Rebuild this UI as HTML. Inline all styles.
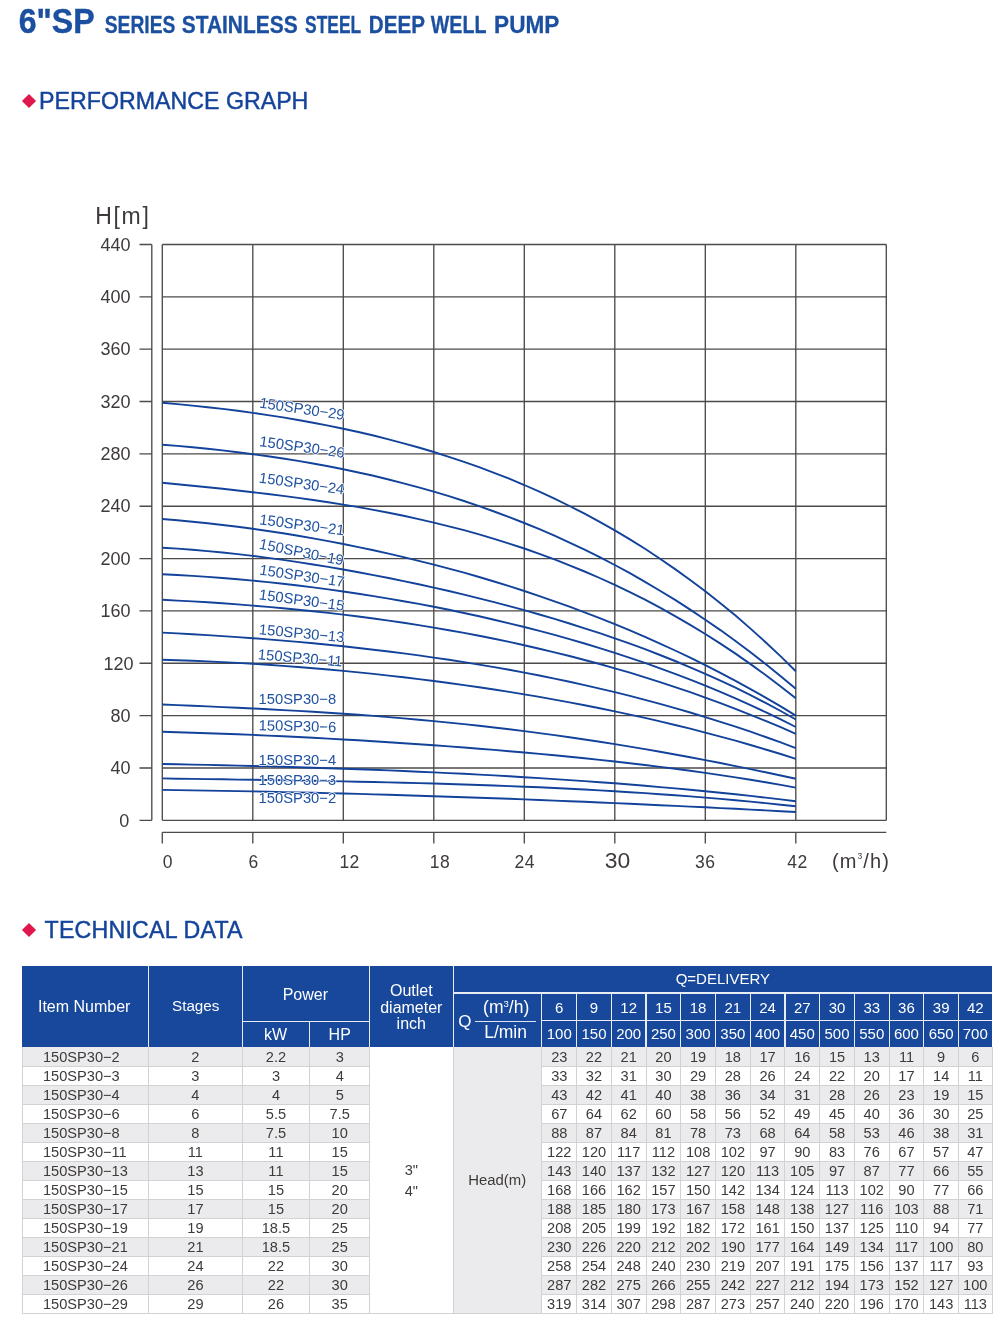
<!DOCTYPE html>
<html lang="en"><head><meta charset="utf-8"><title>6"SP Series Stainless Steel Deep Well Pump</title>
<style>
html,body{margin:0;padding:0;background:#fff}
body{width:1006px;height:1320px;position:relative;overflow:hidden;font-family:"Liberation Sans",sans-serif;color:#3e3a39}
.abs{position:absolute;white-space:nowrap}
.c{transform:translate(-50%,-50%);text-align:center}
.h{color:#fff;font-size:16px;line-height:1}
.d{color:#3e3a39;font-size:14.6px;line-height:1}
svg text{font-family:"Liberation Sans",sans-serif}
.t1{left:17.8px;top:1.1px;font-weight:bold;font-size:34.2px;line-height:38px;color:#1b4fa0;transform-origin:0 0;transform:scaleX(0.935);-webkit-text-stroke:0.4px #1b4fa0}
.t2{left:104.2px;top:9.2px;font-weight:bold;font-size:23.7px;line-height:28px;color:#1b4fa0;transform-origin:0 0;transform:scaleX(0.871);-webkit-text-stroke:0.3px #1b4fa0}
.sec{font-size:23.2px;line-height:26px;color:#14439b;-webkit-text-stroke:0.45px #14439b}
.dia{width:10px;height:10px;background:#e0174d;transform:rotate(45deg)}
</style></head><body>
<svg class="abs" style="left:0;top:0" width="1006" height="50" viewBox="0 0 1006 50" font-weight="bold" fill="#1b4fa0" stroke="#1b4fa0">
<text x="18.7" y="32.9" font-size="34.2" stroke-width="0.4" textLength="76" lengthAdjust="spacingAndGlyphs">6"SP</text>
<text x="104.7" y="32.9" font-size="23.7" stroke-width="0.3" textLength="70.7" lengthAdjust="spacingAndGlyphs">SERIES</text>
<text x="181.7" y="32.9" font-size="23.7" stroke-width="0.3" textLength="115.9" lengthAdjust="spacingAndGlyphs">STAINLESS</text>
<text x="305.1" y="32.9" font-size="23.7" stroke-width="0.3" textLength="56.1" lengthAdjust="spacingAndGlyphs">STEEL</text>
<text x="368.8" y="32.9" font-size="23.7" stroke-width="0.3" textLength="56.2" lengthAdjust="spacingAndGlyphs">DEEP</text>
<text x="430.8" y="32.9" font-size="23.7" stroke-width="0.3" textLength="55.7" lengthAdjust="spacingAndGlyphs">WELL</text>
<text x="494.1" y="32.9" font-size="23.7" stroke-width="0.3" textLength="65.2" lengthAdjust="spacingAndGlyphs">PUMP</text>
</svg>
<div class="abs dia" style="left:24.4px;top:95.5px"></div>
<div class="abs sec" style="left:39.1px;top:88px">PERFORMANCE GRAPH</div>
<div class="abs dia" style="left:24.4px;top:924.5px"></div>
<div class="abs sec" style="left:44.6px;top:917.2px;letter-spacing:0.2px">TECHNICAL DATA</div>
<svg class="abs" style="left:0;top:0" width="1006" height="900" viewBox="0 0 1006 900">
<path d="M162.30 244.45V820.30M252.80 244.45V820.30M343.30 244.45V820.30M433.80 244.45V820.30M524.30 244.45V820.30M614.80 244.45V820.30M705.30 244.45V820.30M795.80 244.45V820.30M886.30 244.45V820.30M162.30 820.30H886.30M162.30 767.95H886.30M162.30 715.60H886.30M162.30 663.25H886.30M162.30 610.90H886.30M162.30 558.55H886.30M162.30 506.20H886.30M162.30 453.85H886.30M162.30 401.50H886.30M162.30 349.15H886.30M162.30 296.80H886.30M162.30 244.45H886.30" fill="none" stroke="#4e4a49" stroke-width="1.35"/>
<path d="M151.8 244.45V820.30M139.5 820.30H151.8M139.5 767.95H151.8M139.5 715.60H151.8M139.5 663.25H151.8M139.5 610.90H151.8M139.5 558.55H151.8M139.5 506.20H151.8M139.5 453.85H151.8M139.5 401.50H151.8M139.5 349.15H151.8M139.5 296.80H151.8M139.5 244.45H151.8M162.30 832.3H886.30M162.30 832.3V843.4M252.80 832.3V843.4M343.30 832.3V843.4M433.80 832.3V843.4M524.30 832.3V843.4M614.80 832.3V843.4M705.30 832.3V843.4M795.80 832.3V843.4" fill="none" stroke="#4e4a49" stroke-width="1.35"/>
<path d="M162.3 789.9L177.4 790.1L192.5 790.4L207.6 790.6L222.6 790.9L237.7 791.1L252.8 791.4L267.9 791.7L283.0 792.1L298.1 792.4L313.1 792.8L328.2 793.1L343.3 793.5L358.4 793.9L373.5 794.4L388.6 794.8L403.6 795.3L418.7 795.7L433.8 796.2L448.9 796.7L464.0 797.2L479.1 797.7L494.1 798.3L509.2 798.8L524.3 799.4L539.4 800.0L554.5 800.6L569.5 801.2L584.6 801.8L599.7 802.5L614.8 803.1L629.9 803.8L645.0 804.5L660.0 805.2L675.1 805.9L690.2 806.6L705.3 807.3L720.4 808.1L735.5 808.8L750.5 809.6L765.6 810.4L780.7 811.2L795.8 812.0" fill="none" stroke="#12429a" stroke-width="1.9"/>
<path d="M162.3 778.4L177.4 778.7L192.5 778.9L207.6 779.1L222.6 779.3L237.7 779.6L252.8 779.8L267.9 780.0L283.0 780.3L298.1 780.6L313.1 780.8L328.2 781.1L343.3 781.4L358.4 781.7L373.5 782.0L388.6 782.4L403.6 782.7L418.7 783.1L433.8 783.5L448.9 784.0L464.0 784.5L479.1 785.0L494.1 785.5L509.2 786.1L524.3 786.7L539.4 787.3L554.5 788.0L569.5 788.8L584.6 789.5L599.7 790.4L614.8 791.2L629.9 792.2L645.0 793.1L660.0 794.2L675.1 795.3L690.2 796.4L705.3 797.6L720.4 798.9L735.5 800.2L750.5 801.6L765.6 803.1L780.7 804.7L795.8 806.3" fill="none" stroke="#12429a" stroke-width="1.9"/>
<path d="M162.3 764.0L177.4 764.3L192.5 764.6L207.6 764.9L222.6 765.3L237.7 765.6L252.8 766.0L267.9 766.4L283.0 766.8L298.1 767.3L313.1 767.7L328.2 768.2L343.3 768.7L358.4 769.3L373.5 769.8L388.6 770.4L403.6 771.0L418.7 771.7L433.8 772.4L448.9 773.1L464.0 773.8L479.1 774.6L494.1 775.4L509.2 776.3L524.3 777.2L539.4 778.1L554.5 779.1L569.5 780.1L584.6 781.1L599.7 782.2L614.8 783.3L629.9 784.5L645.0 785.8L660.0 787.1L675.1 788.4L690.2 789.8L705.3 791.2L720.4 792.7L735.5 794.3L750.5 795.9L765.6 797.6L780.7 799.4L795.8 801.2" fill="none" stroke="#12429a" stroke-width="1.9"/>
<path d="M162.3 731.8L177.4 732.2L192.5 732.7L207.6 733.2L222.6 733.7L237.7 734.3L252.8 734.9L267.9 735.6L283.0 736.3L298.1 737.0L313.1 737.8L328.2 738.6L343.3 739.5L358.4 740.3L373.5 741.3L388.6 742.2L403.6 743.2L418.7 744.2L433.8 745.3L448.9 746.4L464.0 747.5L479.1 748.7L494.1 749.9L509.2 751.2L524.3 752.5L539.4 753.9L554.5 755.3L569.5 756.8L584.6 758.3L599.7 759.9L614.8 761.5L629.9 763.3L645.0 765.0L660.0 766.9L675.1 768.8L690.2 770.8L705.3 772.9L720.4 775.1L735.5 777.4L750.5 779.8L765.6 782.3L780.7 784.9L795.8 787.6" fill="none" stroke="#12429a" stroke-width="1.9"/>
<path d="M162.3 704.5L177.4 705.1L192.5 705.7L207.6 706.4L222.6 707.1L237.7 707.8L252.8 708.5L267.9 709.2L283.0 710.1L298.1 710.9L313.1 711.8L328.2 712.7L343.3 713.7L358.4 714.8L373.5 715.9L388.6 717.1L403.6 718.4L418.7 719.7L433.8 721.1L448.9 722.6L464.0 724.1L479.1 725.8L494.1 727.5L509.2 729.3L524.3 731.1L539.4 733.1L554.5 735.1L569.5 737.2L584.6 739.5L599.7 741.7L614.8 744.1L629.9 746.6L645.0 749.1L660.0 751.8L675.1 754.5L690.2 757.2L705.3 760.1L720.4 763.0L735.5 766.1L750.5 769.1L765.6 772.3L780.7 775.5L795.8 778.8" fill="none" stroke="#12429a" stroke-width="1.9"/>
<path d="M162.3 659.7L177.4 660.2L192.5 660.8L207.6 661.4L222.6 662.1L237.7 662.9L252.8 663.8L267.9 664.8L283.0 665.9L298.1 667.0L313.1 668.2L328.2 669.5L343.3 670.9L358.4 672.4L373.5 673.9L388.6 675.6L403.6 677.3L418.7 679.1L433.8 681.0L448.9 683.0L464.0 685.1L479.1 687.3L494.1 689.5L509.2 691.9L524.3 694.4L539.4 696.9L554.5 699.6L569.5 702.4L584.6 705.3L599.7 708.3L614.8 711.4L629.9 714.6L645.0 717.9L660.0 721.4L675.1 725.0L690.2 728.7L705.3 732.6L720.4 736.6L735.5 740.7L750.5 745.0L765.6 749.5L780.7 754.0L795.8 758.8" fill="none" stroke="#12429a" stroke-width="1.9"/>
<path d="M162.3 632.6L177.4 633.4L192.5 634.2L207.6 635.1L222.6 636.1L237.7 637.1L252.8 638.2L267.9 639.4L283.0 640.6L298.1 641.9L313.1 643.3L328.2 644.8L343.3 646.3L358.4 648.0L373.5 649.7L388.6 651.5L403.6 653.4L418.7 655.4L433.8 657.6L448.9 659.8L464.0 662.1L479.1 664.6L494.1 667.1L509.2 669.8L524.3 672.6L539.4 675.5L554.5 678.6L569.5 681.8L584.6 685.1L599.7 688.6L614.8 692.2L629.9 695.9L645.0 699.8L660.0 703.9L675.1 708.1L690.2 712.5L705.3 717.1L720.4 721.8L735.5 726.7L750.5 731.7L765.6 737.0L780.7 742.4L795.8 748.1" fill="none" stroke="#12429a" stroke-width="1.9"/>
<path d="M162.3 599.8L177.4 600.6L192.5 601.4L207.6 602.3L222.6 603.3L237.7 604.4L252.8 605.6L267.9 606.9L283.0 608.2L298.1 609.7L313.1 611.2L328.2 612.9L343.3 614.6L358.4 616.5L373.5 618.5L388.6 620.6L403.6 622.8L418.7 625.1L433.8 627.6L448.9 630.2L464.0 632.9L479.1 635.8L494.1 638.8L509.2 641.9L524.3 645.2L539.4 648.7L554.5 652.3L569.5 656.0L584.6 660.0L599.7 664.0L614.8 668.3L629.9 672.7L645.0 677.3L660.0 682.1L675.1 687.1L690.2 692.2L705.3 697.6L720.4 703.1L735.5 708.8L750.5 714.8L765.6 720.9L780.7 727.2L795.8 733.8" fill="none" stroke="#12429a" stroke-width="1.9"/>
<path d="M162.3 574.3L177.4 575.0L192.5 575.9L207.6 576.9L222.6 578.0L237.7 579.2L252.8 580.6L267.9 582.1L283.0 583.7L298.1 585.5L313.1 587.4L328.2 589.4L343.3 591.5L358.4 593.7L373.5 596.1L388.6 598.6L403.6 601.2L418.7 603.9L433.8 606.8L448.9 609.8L464.0 613.0L479.1 616.2L494.1 619.7L509.2 623.3L524.3 627.0L539.4 630.9L554.5 634.9L569.5 639.1L584.6 643.5L599.7 648.1L614.8 652.9L629.9 657.8L645.0 662.9L660.0 668.3L675.1 673.8L690.2 679.6L705.3 685.6L720.4 691.9L735.5 698.4L750.5 705.1L765.6 712.1L780.7 719.4L795.8 727.0" fill="none" stroke="#12429a" stroke-width="1.9"/>
<path d="M162.3 547.7L177.4 548.6L192.5 549.8L207.6 551.1L222.6 552.5L237.7 554.1L252.8 555.9L267.9 557.9L283.0 559.9L298.1 562.1L313.1 564.5L328.2 566.9L343.3 569.5L358.4 572.2L373.5 575.1L388.6 578.0L403.6 581.1L418.7 584.3L433.8 587.6L448.9 591.0L464.0 594.6L479.1 598.3L494.1 602.1L509.2 606.1L524.3 610.2L539.4 614.5L554.5 618.9L569.5 623.5L584.6 628.3L599.7 633.2L614.8 638.3L629.9 643.7L645.0 649.2L660.0 655.0L675.1 661.0L690.2 667.3L705.3 673.8L720.4 680.6L735.5 687.7L750.5 695.2L765.6 702.9L780.7 711.0L795.8 719.5" fill="none" stroke="#12429a" stroke-width="1.9"/>
<path d="M162.3 519.0L177.4 520.3L192.5 521.7L207.6 523.3L222.6 525.0L237.7 526.8L252.8 528.8L267.9 531.0L283.0 533.3L298.1 535.8L313.1 538.4L328.2 541.1L343.3 544.0L358.4 547.1L373.5 550.3L388.6 553.6L403.6 557.1L418.7 560.8L433.8 564.6L448.9 568.6L464.0 572.7L479.1 577.0L494.1 581.5L509.2 586.2L524.3 591.0L539.4 596.1L554.5 601.3L569.5 606.7L584.6 612.3L599.7 618.1L614.8 624.1L629.9 630.4L645.0 636.9L660.0 643.6L675.1 650.5L690.2 657.7L705.3 665.1L720.4 672.8L735.5 680.8L750.5 689.1L765.6 697.6L780.7 706.4L795.8 715.6" fill="none" stroke="#12429a" stroke-width="1.9"/>
<path d="M162.3 482.8L177.4 484.2L192.5 485.7L207.6 487.3L222.6 488.8L237.7 490.5L252.8 492.2L267.9 494.0L283.0 495.9L298.1 497.9L313.1 500.0L328.2 502.2L343.3 504.6L358.4 507.1L373.5 509.9L388.6 512.7L403.6 515.8L418.7 519.1L433.8 522.6L448.9 526.3L464.0 530.2L479.1 534.4L494.1 538.8L509.2 543.6L524.3 548.5L539.4 553.8L554.5 559.4L569.5 565.3L584.6 571.5L599.7 578.0L614.8 584.9L629.9 592.1L645.0 599.7L660.0 607.7L675.1 616.1L690.2 624.9L705.3 634.0L720.4 643.6L735.5 653.6L750.5 664.1L765.6 675.0L780.7 686.4L795.8 698.2" fill="none" stroke="#12429a" stroke-width="1.9"/>
<path d="M162.3 444.7L177.4 445.9L192.5 447.3L207.6 448.8L222.6 450.4L237.7 452.2L252.8 454.2L267.9 456.2L283.0 458.5L298.1 460.9L313.1 463.5L328.2 466.3L343.3 469.3L358.4 472.5L373.5 475.8L388.6 479.5L403.6 483.3L418.7 487.4L433.8 491.7L448.9 496.2L464.0 501.0L479.1 506.1L494.1 511.5L509.2 517.1L524.3 523.0L539.4 529.2L554.5 535.7L569.5 542.6L584.6 549.7L599.7 557.2L614.8 565.0L629.9 573.2L645.0 581.8L660.0 590.7L675.1 599.9L690.2 609.6L705.3 619.7L720.4 630.1L735.5 641.0L750.5 652.3L765.6 664.0L780.7 676.2L795.8 688.8" fill="none" stroke="#12429a" stroke-width="1.9"/>
<path d="M162.3 402.8L177.4 404.1L192.5 405.6L207.6 407.2L222.6 408.9L237.7 410.8L252.8 412.9L267.9 415.1L283.0 417.4L298.1 420.0L313.1 422.7L328.2 425.6L343.3 428.7L358.4 432.0L373.5 435.5L388.6 439.3L403.6 443.3L418.7 447.5L433.8 452.0L448.9 456.8L464.0 461.8L479.1 467.2L494.1 472.8L509.2 478.7L524.3 485.0L539.4 491.7L554.5 498.6L569.5 506.0L584.6 513.7L599.7 521.9L614.8 530.4L629.9 539.4L645.0 548.8L660.0 558.7L675.1 569.1L690.2 579.9L705.3 591.3L720.4 603.2L735.5 615.6L750.5 628.6L765.6 642.2L780.7 656.4L795.8 671.2" fill="none" stroke="#12429a" stroke-width="1.9"/>
<text x="258.90000000000003" y="407.5" transform="rotate(8.4 258.90000000000003 407.5)" fill="#2052a2" font-size="14.75" stroke="#fff" stroke-width="1.5" stroke-linejoin="round" paint-order="stroke">150SP30−29</text>
<text x="258.90000000000003" y="446.0" transform="rotate(7.9 258.90000000000003 446.0)" fill="#2052a2" font-size="14.75" stroke="#fff" stroke-width="1.5" stroke-linejoin="round" paint-order="stroke">150SP30−26</text>
<text x="258.6" y="482.4" transform="rotate(8.1 258.6 482.4)" fill="#2052a2" font-size="14.75" stroke="#fff" stroke-width="1.5" stroke-linejoin="round" paint-order="stroke">150SP30−24</text>
<text x="258.90000000000003" y="524.2" transform="rotate(7.5 258.90000000000003 524.2)" fill="#2052a2" font-size="14.75" stroke="#fff" stroke-width="1.5" stroke-linejoin="round" paint-order="stroke">150SP30−21</text>
<text x="258.6" y="548.6" transform="rotate(11.3 258.6 548.6)" fill="#2052a2" font-size="14.75" stroke="#fff" stroke-width="1.5" stroke-linejoin="round" paint-order="stroke">150SP30−19</text>
<text x="258.90000000000003" y="574.5" transform="rotate(8.4 258.90000000000003 574.5)" fill="#2052a2" font-size="14.75" stroke="#fff" stroke-width="1.5" stroke-linejoin="round" paint-order="stroke">150SP30−17</text>
<text x="258.6" y="599.3" transform="rotate(7.7 258.6 599.3)" fill="#2052a2" font-size="14.75" stroke="#fff" stroke-width="1.5" stroke-linejoin="round" paint-order="stroke">150SP30−15</text>
<text x="258.6" y="634.2" transform="rotate(5.4 258.6 634.2)" fill="#2052a2" font-size="14.75" stroke="#fff" stroke-width="1.5" stroke-linejoin="round" paint-order="stroke">150SP30−13</text>
<text x="257.6" y="659.2" transform="rotate(5.0 257.6 659.2)" fill="#2052a2" font-size="14.75" stroke="#fff" stroke-width="1.5" stroke-linejoin="round" paint-order="stroke">150SP30−11</text>
<text x="258.6" y="704.4" transform="rotate(0 258.6 704.4)" fill="#2052a2" font-size="14.75" stroke="#fff" stroke-width="1.5" stroke-linejoin="round" paint-order="stroke">150SP30−8</text>
<text x="258.6" y="730.2" transform="rotate(1.4 258.6 730.2)" fill="#2052a2" font-size="14.75" stroke="#fff" stroke-width="1.5" stroke-linejoin="round" paint-order="stroke">150SP30−6</text>
<text x="258.6" y="765.0" transform="rotate(0 258.6 765.0)" fill="#2052a2" font-size="14.75" stroke="#fff" stroke-width="1.5" stroke-linejoin="round" paint-order="stroke">150SP30−4</text>
<text x="258.6" y="784.9" transform="rotate(0 258.6 784.9)" fill="#2052a2" font-size="14.75" stroke="#fff" stroke-width="1.5" stroke-linejoin="round" paint-order="stroke">150SP30−3</text>
<text x="258.6" y="803.2" transform="rotate(0 258.6 803.2)" fill="#2052a2" font-size="14.75" stroke="#fff" stroke-width="1.5" stroke-linejoin="round" paint-order="stroke">150SP30−2</text>
<text x="129.2" y="826.5" text-anchor="end" fill="#3e3a39" font-size="18">0</text>
<text x="130.6" y="774.1" text-anchor="end" fill="#3e3a39" font-size="18">40</text>
<text x="130.6" y="721.8" text-anchor="end" fill="#3e3a39" font-size="18">80</text>
<text x="133.6" y="669.5" text-anchor="end" fill="#3e3a39" font-size="18">120</text>
<text x="130.6" y="617.1" text-anchor="end" fill="#3e3a39" font-size="18">160</text>
<text x="130.6" y="564.8" text-anchor="end" fill="#3e3a39" font-size="18">200</text>
<text x="130.6" y="512.4" text-anchor="end" fill="#3e3a39" font-size="18">240</text>
<text x="130.6" y="460.0" text-anchor="end" fill="#3e3a39" font-size="18">280</text>
<text x="130.6" y="407.7" text-anchor="end" fill="#3e3a39" font-size="18">320</text>
<text x="130.6" y="355.3" text-anchor="end" fill="#3e3a39" font-size="18">360</text>
<text x="130.6" y="303.0" text-anchor="end" fill="#3e3a39" font-size="18">400</text>
<text x="130.6" y="250.6" text-anchor="end" fill="#3e3a39" font-size="18">440</text>
<text x="167.7" y="867.7" text-anchor="middle" fill="#3e3a39" font-size="17.5" letter-spacing="0.4">0</text>
<text x="253.6" y="867.7" text-anchor="middle" fill="#3e3a39" font-size="17.5" letter-spacing="0.4">6</text>
<text x="349.59999999999997" y="867.7" text-anchor="middle" fill="#3e3a39" font-size="17.5" letter-spacing="0.4">12</text>
<text x="440.0" y="867.7" text-anchor="middle" fill="#3e3a39" font-size="17.5" letter-spacing="0.4">18</text>
<text x="524.7" y="867.7" text-anchor="middle" fill="#3e3a39" font-size="17.5" letter-spacing="0.4">24</text>
<text x="617.6" y="868.3" text-anchor="middle" fill="#3e3a39" font-size="22.9">30</text>
<text x="705.2" y="867.7" text-anchor="middle" fill="#3e3a39" font-size="17.5" letter-spacing="0.4">36</text>
<text x="797.5" y="867.7" text-anchor="middle" fill="#3e3a39" font-size="17.5" letter-spacing="0.4">42</text>
<text x="832" y="867.7" fill="#3e3a39" font-size="20" letter-spacing="1.1">(m<tspan dy="-9" font-size="8.5">3</tspan><tspan dy="9">/h)</tspan></text>
<text x="95.2" y="223.9" fill="#3e3a39" font-size="23" letter-spacing="1.7">H[m]</text>
</svg>
<div class="abs" style="left:22.00px;top:966.20px;width:970.00px;height:81.00px;background:#17489b;"></div>
<div class="abs" style="left:22.00px;top:1047.20px;width:347.90px;height:19.03px;background:#ebebed;"></div>
<div class="abs" style="left:541.90px;top:1047.20px;width:450.10px;height:19.03px;background:#ebebed;"></div>
<div class="abs" style="left:22.00px;top:1066.23px;width:347.90px;height:19.03px;background:#fff;"></div>
<div class="abs" style="left:541.90px;top:1066.23px;width:450.10px;height:19.03px;background:#fff;"></div>
<div class="abs" style="left:22.00px;top:1085.26px;width:347.90px;height:19.03px;background:#ebebed;"></div>
<div class="abs" style="left:541.90px;top:1085.26px;width:450.10px;height:19.03px;background:#ebebed;"></div>
<div class="abs" style="left:22.00px;top:1104.29px;width:347.90px;height:19.03px;background:#fff;"></div>
<div class="abs" style="left:541.90px;top:1104.29px;width:450.10px;height:19.03px;background:#fff;"></div>
<div class="abs" style="left:22.00px;top:1123.31px;width:347.90px;height:19.03px;background:#ebebed;"></div>
<div class="abs" style="left:541.90px;top:1123.31px;width:450.10px;height:19.03px;background:#ebebed;"></div>
<div class="abs" style="left:22.00px;top:1142.34px;width:347.90px;height:19.03px;background:#fff;"></div>
<div class="abs" style="left:541.90px;top:1142.34px;width:450.10px;height:19.03px;background:#fff;"></div>
<div class="abs" style="left:22.00px;top:1161.37px;width:347.90px;height:19.03px;background:#ebebed;"></div>
<div class="abs" style="left:541.90px;top:1161.37px;width:450.10px;height:19.03px;background:#ebebed;"></div>
<div class="abs" style="left:22.00px;top:1180.40px;width:347.90px;height:19.03px;background:#fff;"></div>
<div class="abs" style="left:541.90px;top:1180.40px;width:450.10px;height:19.03px;background:#fff;"></div>
<div class="abs" style="left:22.00px;top:1199.43px;width:347.90px;height:19.03px;background:#ebebed;"></div>
<div class="abs" style="left:541.90px;top:1199.43px;width:450.10px;height:19.03px;background:#ebebed;"></div>
<div class="abs" style="left:22.00px;top:1218.46px;width:347.90px;height:19.03px;background:#fff;"></div>
<div class="abs" style="left:541.90px;top:1218.46px;width:450.10px;height:19.03px;background:#fff;"></div>
<div class="abs" style="left:22.00px;top:1237.49px;width:347.90px;height:19.03px;background:#ebebed;"></div>
<div class="abs" style="left:541.90px;top:1237.49px;width:450.10px;height:19.03px;background:#ebebed;"></div>
<div class="abs" style="left:22.00px;top:1256.51px;width:347.90px;height:19.03px;background:#fff;"></div>
<div class="abs" style="left:541.90px;top:1256.51px;width:450.10px;height:19.03px;background:#fff;"></div>
<div class="abs" style="left:22.00px;top:1275.54px;width:347.90px;height:19.03px;background:#ebebed;"></div>
<div class="abs" style="left:541.90px;top:1275.54px;width:450.10px;height:19.03px;background:#ebebed;"></div>
<div class="abs" style="left:22.00px;top:1294.57px;width:347.90px;height:19.03px;background:#fff;"></div>
<div class="abs" style="left:541.90px;top:1294.57px;width:450.10px;height:19.03px;background:#fff;"></div>
<div class="abs" style="left:453.70px;top:1047.20px;width:88.20px;height:266.40px;background:#ebebed;"></div>
<div class="abs" style="left:22.00px;top:1065.73px;width:347.90px;height:1.00px;background:#d2d2d4;"></div>
<div class="abs" style="left:541.90px;top:1065.73px;width:450.10px;height:1.00px;background:#d2d2d4;"></div>
<div class="abs" style="left:22.00px;top:1084.76px;width:347.90px;height:1.00px;background:#d2d2d4;"></div>
<div class="abs" style="left:541.90px;top:1084.76px;width:450.10px;height:1.00px;background:#d2d2d4;"></div>
<div class="abs" style="left:22.00px;top:1103.79px;width:347.90px;height:1.00px;background:#d2d2d4;"></div>
<div class="abs" style="left:541.90px;top:1103.79px;width:450.10px;height:1.00px;background:#d2d2d4;"></div>
<div class="abs" style="left:22.00px;top:1122.81px;width:347.90px;height:1.00px;background:#d2d2d4;"></div>
<div class="abs" style="left:541.90px;top:1122.81px;width:450.10px;height:1.00px;background:#d2d2d4;"></div>
<div class="abs" style="left:22.00px;top:1141.84px;width:347.90px;height:1.00px;background:#d2d2d4;"></div>
<div class="abs" style="left:541.90px;top:1141.84px;width:450.10px;height:1.00px;background:#d2d2d4;"></div>
<div class="abs" style="left:22.00px;top:1160.87px;width:347.90px;height:1.00px;background:#d2d2d4;"></div>
<div class="abs" style="left:541.90px;top:1160.87px;width:450.10px;height:1.00px;background:#d2d2d4;"></div>
<div class="abs" style="left:22.00px;top:1179.90px;width:347.90px;height:1.00px;background:#d2d2d4;"></div>
<div class="abs" style="left:541.90px;top:1179.90px;width:450.10px;height:1.00px;background:#d2d2d4;"></div>
<div class="abs" style="left:22.00px;top:1198.93px;width:347.90px;height:1.00px;background:#d2d2d4;"></div>
<div class="abs" style="left:541.90px;top:1198.93px;width:450.10px;height:1.00px;background:#d2d2d4;"></div>
<div class="abs" style="left:22.00px;top:1217.96px;width:347.90px;height:1.00px;background:#d2d2d4;"></div>
<div class="abs" style="left:541.90px;top:1217.96px;width:450.10px;height:1.00px;background:#d2d2d4;"></div>
<div class="abs" style="left:22.00px;top:1236.99px;width:347.90px;height:1.00px;background:#d2d2d4;"></div>
<div class="abs" style="left:541.90px;top:1236.99px;width:450.10px;height:1.00px;background:#d2d2d4;"></div>
<div class="abs" style="left:22.00px;top:1256.01px;width:347.90px;height:1.00px;background:#d2d2d4;"></div>
<div class="abs" style="left:541.90px;top:1256.01px;width:450.10px;height:1.00px;background:#d2d2d4;"></div>
<div class="abs" style="left:22.00px;top:1275.04px;width:347.90px;height:1.00px;background:#d2d2d4;"></div>
<div class="abs" style="left:541.90px;top:1275.04px;width:450.10px;height:1.00px;background:#d2d2d4;"></div>
<div class="abs" style="left:22.00px;top:1294.07px;width:347.90px;height:1.00px;background:#d2d2d4;"></div>
<div class="abs" style="left:541.90px;top:1294.07px;width:450.10px;height:1.00px;background:#d2d2d4;"></div>
<div class="abs" style="left:22.00px;top:1313.10px;width:970.00px;height:1.00px;background:#d2d2d4;"></div>
<div class="abs" style="left:21.50px;top:1047.20px;width:1.00px;height:266.40px;background:#d2d2d4;"></div>
<div class="abs" style="left:991.50px;top:1047.20px;width:1.00px;height:266.40px;background:#d2d2d4;"></div>
<div class="abs" style="left:147.90px;top:1047.20px;width:1.00px;height:266.40px;background:#d2d2d4;"></div>
<div class="abs" style="left:241.90px;top:1047.20px;width:1.00px;height:266.40px;background:#d2d2d4;"></div>
<div class="abs" style="left:309.00px;top:1047.20px;width:1.00px;height:266.40px;background:#d2d2d4;"></div>
<div class="abs" style="left:369.40px;top:1047.20px;width:1.00px;height:266.40px;background:#d2d2d4;"></div>
<div class="abs" style="left:453.20px;top:1047.20px;width:1.00px;height:266.40px;background:#d2d2d4;"></div>
<div class="abs" style="left:541.40px;top:1047.20px;width:1.00px;height:266.40px;background:#d2d2d4;"></div>
<div class="abs" style="left:576.12px;top:1047.20px;width:1.00px;height:266.40px;background:#d2d2d4;"></div>
<div class="abs" style="left:610.84px;top:1047.20px;width:1.00px;height:266.40px;background:#d2d2d4;"></div>
<div class="abs" style="left:645.56px;top:1047.20px;width:1.00px;height:266.40px;background:#d2d2d4;"></div>
<div class="abs" style="left:680.28px;top:1047.20px;width:1.00px;height:266.40px;background:#d2d2d4;"></div>
<div class="abs" style="left:715.00px;top:1047.20px;width:1.00px;height:266.40px;background:#d2d2d4;"></div>
<div class="abs" style="left:749.72px;top:1047.20px;width:1.00px;height:266.40px;background:#d2d2d4;"></div>
<div class="abs" style="left:784.44px;top:1047.20px;width:1.00px;height:266.40px;background:#d2d2d4;"></div>
<div class="abs" style="left:819.16px;top:1047.20px;width:1.00px;height:266.40px;background:#d2d2d4;"></div>
<div class="abs" style="left:853.88px;top:1047.20px;width:1.00px;height:266.40px;background:#d2d2d4;"></div>
<div class="abs" style="left:888.60px;top:1047.20px;width:1.00px;height:266.40px;background:#d2d2d4;"></div>
<div class="abs" style="left:923.32px;top:1047.20px;width:1.00px;height:266.40px;background:#d2d2d4;"></div>
<div class="abs" style="left:958.04px;top:1047.20px;width:1.00px;height:266.40px;background:#d2d2d4;"></div>
<div class="abs" style="left:147.80px;top:966.20px;width:1.20px;height:81.00px;background:#e8edf5;"></div>
<div class="abs" style="left:241.80px;top:966.20px;width:1.20px;height:81.00px;background:#e8edf5;"></div>
<div class="abs" style="left:369.30px;top:966.20px;width:1.20px;height:81.00px;background:#e8edf5;"></div>
<div class="abs" style="left:453.10px;top:966.20px;width:1.20px;height:81.00px;background:#e8edf5;"></div>
<div class="abs" style="left:308.90px;top:1021.60px;width:1.20px;height:25.60px;background:#e8edf5;"></div>
<div class="abs" style="left:242.40px;top:1021.00px;width:127.50px;height:1.20px;background:#e8edf5;"></div>
<div class="abs" style="left:453.70px;top:992.40px;width:538.30px;height:1.20px;background:#e8edf5;"></div>
<div class="abs" style="left:541.30px;top:993.00px;width:1.20px;height:54.20px;background:#e8edf5;"></div>
<div class="abs" style="left:576.02px;top:993.00px;width:1.20px;height:54.20px;background:#e8edf5;"></div>
<div class="abs" style="left:610.74px;top:993.00px;width:1.20px;height:54.20px;background:#e8edf5;"></div>
<div class="abs" style="left:645.46px;top:993.00px;width:1.20px;height:54.20px;background:#e8edf5;"></div>
<div class="abs" style="left:680.18px;top:993.00px;width:1.20px;height:54.20px;background:#e8edf5;"></div>
<div class="abs" style="left:714.90px;top:993.00px;width:1.20px;height:54.20px;background:#e8edf5;"></div>
<div class="abs" style="left:749.62px;top:993.00px;width:1.20px;height:54.20px;background:#e8edf5;"></div>
<div class="abs" style="left:784.34px;top:993.00px;width:1.20px;height:54.20px;background:#e8edf5;"></div>
<div class="abs" style="left:819.06px;top:993.00px;width:1.20px;height:54.20px;background:#e8edf5;"></div>
<div class="abs" style="left:853.78px;top:993.00px;width:1.20px;height:54.20px;background:#e8edf5;"></div>
<div class="abs" style="left:888.50px;top:993.00px;width:1.20px;height:54.20px;background:#e8edf5;"></div>
<div class="abs" style="left:923.22px;top:993.00px;width:1.20px;height:54.20px;background:#e8edf5;"></div>
<div class="abs" style="left:957.94px;top:993.00px;width:1.20px;height:54.20px;background:#e8edf5;"></div>
<div class="abs" style="left:541.90px;top:1019.80px;width:450.10px;height:1.20px;background:#e8edf5;"></div>
<div class="abs c h" style="left:84.20px;top:1006.60px;">Item Number</div>
<div class="abs c h" style="left:195.70px;top:1005.80px;font-size:15.2px;">Stages</div>
<div class="abs c h" style="left:305.35px;top:994.80px;">Power</div>
<div class="abs c h" style="left:275.45px;top:1035.10px;">kW</div>
<div class="abs c h" style="left:339.70px;top:1035.10px;">HP</div>
<div class="abs c h" style="left:411.30px;top:1007.60px;line-height:16.9px;">Outlet<br>diameter<br>inch</div>
<div class="abs c h" style="left:722.85px;top:977.80px;font-size:15px;">Q=DELIVERY</div>
<div class="abs c h" style="left:464.80px;top:1021.00px;font-size:17px;">Q</div>
<div class="abs c h" style="left:506.20px;top:1008.20px;font-size:17.5px;">(m<span style="font-size:9.5px;position:relative;top:-6.5px">3</span>/h)</div>
<div class="abs c h" style="left:505.60px;top:1032.60px;font-size:17.5px;">L/min</div>
<div class="abs" style="left:474.80px;top:1020.90px;width:61.60px;height:1.10px;background:#dfe6f2;"></div>
<div class="abs c h" style="left:559.26px;top:1006.70px;font-size:15px;">6</div>
<div class="abs c h" style="left:559.26px;top:1033.40px;font-size:15px;">100</div>
<div class="abs c h" style="left:593.98px;top:1006.70px;font-size:15px;">9</div>
<div class="abs c h" style="left:593.98px;top:1033.40px;font-size:15px;">150</div>
<div class="abs c h" style="left:628.70px;top:1006.70px;font-size:15px;">12</div>
<div class="abs c h" style="left:628.70px;top:1033.40px;font-size:15px;">200</div>
<div class="abs c h" style="left:663.42px;top:1006.70px;font-size:15px;">15</div>
<div class="abs c h" style="left:663.42px;top:1033.40px;font-size:15px;">250</div>
<div class="abs c h" style="left:698.14px;top:1006.70px;font-size:15px;">18</div>
<div class="abs c h" style="left:698.14px;top:1033.40px;font-size:15px;">300</div>
<div class="abs c h" style="left:732.86px;top:1006.70px;font-size:15px;">21</div>
<div class="abs c h" style="left:732.86px;top:1033.40px;font-size:15px;">350</div>
<div class="abs c h" style="left:767.58px;top:1006.70px;font-size:15px;">24</div>
<div class="abs c h" style="left:767.58px;top:1033.40px;font-size:15px;">400</div>
<div class="abs c h" style="left:802.30px;top:1006.70px;font-size:15px;">27</div>
<div class="abs c h" style="left:802.30px;top:1033.40px;font-size:15px;">450</div>
<div class="abs c h" style="left:837.02px;top:1006.70px;font-size:15px;">30</div>
<div class="abs c h" style="left:837.02px;top:1033.40px;font-size:15px;">500</div>
<div class="abs c h" style="left:871.74px;top:1006.70px;font-size:15px;">33</div>
<div class="abs c h" style="left:871.74px;top:1033.40px;font-size:15px;">550</div>
<div class="abs c h" style="left:906.46px;top:1006.70px;font-size:15px;">36</div>
<div class="abs c h" style="left:906.46px;top:1033.40px;font-size:15px;">600</div>
<div class="abs c h" style="left:941.18px;top:1006.70px;font-size:15px;">39</div>
<div class="abs c h" style="left:941.18px;top:1033.40px;font-size:15px;">650</div>
<div class="abs c h" style="left:975.27px;top:1006.70px;font-size:15px;">42</div>
<div class="abs c h" style="left:975.27px;top:1033.40px;font-size:15px;">700</div>
<div class="abs d" style="left:43px;top:1057.01px;transform:translate(0,-50%)">150SP30−2</div>
<div class="abs c d" style="left:195.40px;top:1057.01px;">2</div>
<div class="abs c d" style="left:275.95px;top:1057.01px;">2.2</div>
<div class="abs c d" style="left:339.70px;top:1057.01px;">3</div>
<div class="abs c d" style="left:559.26px;top:1057.01px;">23</div>
<div class="abs c d" style="left:593.98px;top:1057.01px;">22</div>
<div class="abs c d" style="left:628.70px;top:1057.01px;">21</div>
<div class="abs c d" style="left:663.42px;top:1057.01px;">20</div>
<div class="abs c d" style="left:698.14px;top:1057.01px;">19</div>
<div class="abs c d" style="left:732.86px;top:1057.01px;">18</div>
<div class="abs c d" style="left:767.58px;top:1057.01px;">17</div>
<div class="abs c d" style="left:802.30px;top:1057.01px;">16</div>
<div class="abs c d" style="left:837.02px;top:1057.01px;">15</div>
<div class="abs c d" style="left:871.74px;top:1057.01px;">13</div>
<div class="abs c d" style="left:906.46px;top:1057.01px;">11</div>
<div class="abs c d" style="left:941.18px;top:1057.01px;">9</div>
<div class="abs c d" style="left:975.27px;top:1057.01px;">6</div>
<div class="abs d" style="left:43px;top:1076.04px;transform:translate(0,-50%)">150SP30−3</div>
<div class="abs c d" style="left:195.40px;top:1076.04px;">3</div>
<div class="abs c d" style="left:275.95px;top:1076.04px;">3</div>
<div class="abs c d" style="left:339.70px;top:1076.04px;">4</div>
<div class="abs c d" style="left:559.26px;top:1076.04px;">33</div>
<div class="abs c d" style="left:593.98px;top:1076.04px;">32</div>
<div class="abs c d" style="left:628.70px;top:1076.04px;">31</div>
<div class="abs c d" style="left:663.42px;top:1076.04px;">30</div>
<div class="abs c d" style="left:698.14px;top:1076.04px;">29</div>
<div class="abs c d" style="left:732.86px;top:1076.04px;">28</div>
<div class="abs c d" style="left:767.58px;top:1076.04px;">26</div>
<div class="abs c d" style="left:802.30px;top:1076.04px;">24</div>
<div class="abs c d" style="left:837.02px;top:1076.04px;">22</div>
<div class="abs c d" style="left:871.74px;top:1076.04px;">20</div>
<div class="abs c d" style="left:906.46px;top:1076.04px;">17</div>
<div class="abs c d" style="left:941.18px;top:1076.04px;">14</div>
<div class="abs c d" style="left:975.27px;top:1076.04px;">11</div>
<div class="abs d" style="left:43px;top:1095.07px;transform:translate(0,-50%)">150SP30−4</div>
<div class="abs c d" style="left:195.40px;top:1095.07px;">4</div>
<div class="abs c d" style="left:275.95px;top:1095.07px;">4</div>
<div class="abs c d" style="left:339.70px;top:1095.07px;">5</div>
<div class="abs c d" style="left:559.26px;top:1095.07px;">43</div>
<div class="abs c d" style="left:593.98px;top:1095.07px;">42</div>
<div class="abs c d" style="left:628.70px;top:1095.07px;">41</div>
<div class="abs c d" style="left:663.42px;top:1095.07px;">40</div>
<div class="abs c d" style="left:698.14px;top:1095.07px;">38</div>
<div class="abs c d" style="left:732.86px;top:1095.07px;">36</div>
<div class="abs c d" style="left:767.58px;top:1095.07px;">34</div>
<div class="abs c d" style="left:802.30px;top:1095.07px;">31</div>
<div class="abs c d" style="left:837.02px;top:1095.07px;">28</div>
<div class="abs c d" style="left:871.74px;top:1095.07px;">26</div>
<div class="abs c d" style="left:906.46px;top:1095.07px;">23</div>
<div class="abs c d" style="left:941.18px;top:1095.07px;">19</div>
<div class="abs c d" style="left:975.27px;top:1095.07px;">15</div>
<div class="abs d" style="left:43px;top:1114.10px;transform:translate(0,-50%)">150SP30−6</div>
<div class="abs c d" style="left:195.40px;top:1114.10px;">6</div>
<div class="abs c d" style="left:275.95px;top:1114.10px;">5.5</div>
<div class="abs c d" style="left:339.70px;top:1114.10px;">7.5</div>
<div class="abs c d" style="left:559.26px;top:1114.10px;">67</div>
<div class="abs c d" style="left:593.98px;top:1114.10px;">64</div>
<div class="abs c d" style="left:628.70px;top:1114.10px;">62</div>
<div class="abs c d" style="left:663.42px;top:1114.10px;">60</div>
<div class="abs c d" style="left:698.14px;top:1114.10px;">58</div>
<div class="abs c d" style="left:732.86px;top:1114.10px;">56</div>
<div class="abs c d" style="left:767.58px;top:1114.10px;">52</div>
<div class="abs c d" style="left:802.30px;top:1114.10px;">49</div>
<div class="abs c d" style="left:837.02px;top:1114.10px;">45</div>
<div class="abs c d" style="left:871.74px;top:1114.10px;">40</div>
<div class="abs c d" style="left:906.46px;top:1114.10px;">36</div>
<div class="abs c d" style="left:941.18px;top:1114.10px;">30</div>
<div class="abs c d" style="left:975.27px;top:1114.10px;">25</div>
<div class="abs d" style="left:43px;top:1133.13px;transform:translate(0,-50%)">150SP30−8</div>
<div class="abs c d" style="left:195.40px;top:1133.13px;">8</div>
<div class="abs c d" style="left:275.95px;top:1133.13px;">7.5</div>
<div class="abs c d" style="left:339.70px;top:1133.13px;">10</div>
<div class="abs c d" style="left:559.26px;top:1133.13px;">88</div>
<div class="abs c d" style="left:593.98px;top:1133.13px;">87</div>
<div class="abs c d" style="left:628.70px;top:1133.13px;">84</div>
<div class="abs c d" style="left:663.42px;top:1133.13px;">81</div>
<div class="abs c d" style="left:698.14px;top:1133.13px;">78</div>
<div class="abs c d" style="left:732.86px;top:1133.13px;">73</div>
<div class="abs c d" style="left:767.58px;top:1133.13px;">68</div>
<div class="abs c d" style="left:802.30px;top:1133.13px;">64</div>
<div class="abs c d" style="left:837.02px;top:1133.13px;">58</div>
<div class="abs c d" style="left:871.74px;top:1133.13px;">53</div>
<div class="abs c d" style="left:906.46px;top:1133.13px;">46</div>
<div class="abs c d" style="left:941.18px;top:1133.13px;">38</div>
<div class="abs c d" style="left:975.27px;top:1133.13px;">31</div>
<div class="abs d" style="left:43px;top:1152.16px;transform:translate(0,-50%)">150SP30−11</div>
<div class="abs c d" style="left:195.40px;top:1152.16px;">11</div>
<div class="abs c d" style="left:275.95px;top:1152.16px;">11</div>
<div class="abs c d" style="left:339.70px;top:1152.16px;">15</div>
<div class="abs c d" style="left:559.26px;top:1152.16px;">122</div>
<div class="abs c d" style="left:593.98px;top:1152.16px;">120</div>
<div class="abs c d" style="left:628.70px;top:1152.16px;">117</div>
<div class="abs c d" style="left:663.42px;top:1152.16px;">112</div>
<div class="abs c d" style="left:698.14px;top:1152.16px;">108</div>
<div class="abs c d" style="left:732.86px;top:1152.16px;">102</div>
<div class="abs c d" style="left:767.58px;top:1152.16px;">97</div>
<div class="abs c d" style="left:802.30px;top:1152.16px;">90</div>
<div class="abs c d" style="left:837.02px;top:1152.16px;">83</div>
<div class="abs c d" style="left:871.74px;top:1152.16px;">76</div>
<div class="abs c d" style="left:906.46px;top:1152.16px;">67</div>
<div class="abs c d" style="left:941.18px;top:1152.16px;">57</div>
<div class="abs c d" style="left:975.27px;top:1152.16px;">47</div>
<div class="abs d" style="left:43px;top:1171.19px;transform:translate(0,-50%)">150SP30−13</div>
<div class="abs c d" style="left:195.40px;top:1171.19px;">13</div>
<div class="abs c d" style="left:275.95px;top:1171.19px;">11</div>
<div class="abs c d" style="left:339.70px;top:1171.19px;">15</div>
<div class="abs c d" style="left:559.26px;top:1171.19px;">143</div>
<div class="abs c d" style="left:593.98px;top:1171.19px;">140</div>
<div class="abs c d" style="left:628.70px;top:1171.19px;">137</div>
<div class="abs c d" style="left:663.42px;top:1171.19px;">132</div>
<div class="abs c d" style="left:698.14px;top:1171.19px;">127</div>
<div class="abs c d" style="left:732.86px;top:1171.19px;">120</div>
<div class="abs c d" style="left:767.58px;top:1171.19px;">113</div>
<div class="abs c d" style="left:802.30px;top:1171.19px;">105</div>
<div class="abs c d" style="left:837.02px;top:1171.19px;">97</div>
<div class="abs c d" style="left:871.74px;top:1171.19px;">87</div>
<div class="abs c d" style="left:906.46px;top:1171.19px;">77</div>
<div class="abs c d" style="left:941.18px;top:1171.19px;">66</div>
<div class="abs c d" style="left:975.27px;top:1171.19px;">55</div>
<div class="abs d" style="left:43px;top:1190.21px;transform:translate(0,-50%)">150SP30−15</div>
<div class="abs c d" style="left:195.40px;top:1190.21px;">15</div>
<div class="abs c d" style="left:275.95px;top:1190.21px;">15</div>
<div class="abs c d" style="left:339.70px;top:1190.21px;">20</div>
<div class="abs c d" style="left:559.26px;top:1190.21px;">168</div>
<div class="abs c d" style="left:593.98px;top:1190.21px;">166</div>
<div class="abs c d" style="left:628.70px;top:1190.21px;">162</div>
<div class="abs c d" style="left:663.42px;top:1190.21px;">157</div>
<div class="abs c d" style="left:698.14px;top:1190.21px;">150</div>
<div class="abs c d" style="left:732.86px;top:1190.21px;">142</div>
<div class="abs c d" style="left:767.58px;top:1190.21px;">134</div>
<div class="abs c d" style="left:802.30px;top:1190.21px;">124</div>
<div class="abs c d" style="left:837.02px;top:1190.21px;">113</div>
<div class="abs c d" style="left:871.74px;top:1190.21px;">102</div>
<div class="abs c d" style="left:906.46px;top:1190.21px;">90</div>
<div class="abs c d" style="left:941.18px;top:1190.21px;">77</div>
<div class="abs c d" style="left:975.27px;top:1190.21px;">66</div>
<div class="abs d" style="left:43px;top:1209.24px;transform:translate(0,-50%)">150SP30−17</div>
<div class="abs c d" style="left:195.40px;top:1209.24px;">17</div>
<div class="abs c d" style="left:275.95px;top:1209.24px;">15</div>
<div class="abs c d" style="left:339.70px;top:1209.24px;">20</div>
<div class="abs c d" style="left:559.26px;top:1209.24px;">188</div>
<div class="abs c d" style="left:593.98px;top:1209.24px;">185</div>
<div class="abs c d" style="left:628.70px;top:1209.24px;">180</div>
<div class="abs c d" style="left:663.42px;top:1209.24px;">173</div>
<div class="abs c d" style="left:698.14px;top:1209.24px;">167</div>
<div class="abs c d" style="left:732.86px;top:1209.24px;">158</div>
<div class="abs c d" style="left:767.58px;top:1209.24px;">148</div>
<div class="abs c d" style="left:802.30px;top:1209.24px;">138</div>
<div class="abs c d" style="left:837.02px;top:1209.24px;">127</div>
<div class="abs c d" style="left:871.74px;top:1209.24px;">116</div>
<div class="abs c d" style="left:906.46px;top:1209.24px;">103</div>
<div class="abs c d" style="left:941.18px;top:1209.24px;">88</div>
<div class="abs c d" style="left:975.27px;top:1209.24px;">71</div>
<div class="abs d" style="left:43px;top:1228.27px;transform:translate(0,-50%)">150SP30−19</div>
<div class="abs c d" style="left:195.40px;top:1228.27px;">19</div>
<div class="abs c d" style="left:275.95px;top:1228.27px;">18.5</div>
<div class="abs c d" style="left:339.70px;top:1228.27px;">25</div>
<div class="abs c d" style="left:559.26px;top:1228.27px;">208</div>
<div class="abs c d" style="left:593.98px;top:1228.27px;">205</div>
<div class="abs c d" style="left:628.70px;top:1228.27px;">199</div>
<div class="abs c d" style="left:663.42px;top:1228.27px;">192</div>
<div class="abs c d" style="left:698.14px;top:1228.27px;">182</div>
<div class="abs c d" style="left:732.86px;top:1228.27px;">172</div>
<div class="abs c d" style="left:767.58px;top:1228.27px;">161</div>
<div class="abs c d" style="left:802.30px;top:1228.27px;">150</div>
<div class="abs c d" style="left:837.02px;top:1228.27px;">137</div>
<div class="abs c d" style="left:871.74px;top:1228.27px;">125</div>
<div class="abs c d" style="left:906.46px;top:1228.27px;">110</div>
<div class="abs c d" style="left:941.18px;top:1228.27px;">94</div>
<div class="abs c d" style="left:975.27px;top:1228.27px;">77</div>
<div class="abs d" style="left:43px;top:1247.30px;transform:translate(0,-50%)">150SP30−21</div>
<div class="abs c d" style="left:195.40px;top:1247.30px;">21</div>
<div class="abs c d" style="left:275.95px;top:1247.30px;">18.5</div>
<div class="abs c d" style="left:339.70px;top:1247.30px;">25</div>
<div class="abs c d" style="left:559.26px;top:1247.30px;">230</div>
<div class="abs c d" style="left:593.98px;top:1247.30px;">226</div>
<div class="abs c d" style="left:628.70px;top:1247.30px;">220</div>
<div class="abs c d" style="left:663.42px;top:1247.30px;">212</div>
<div class="abs c d" style="left:698.14px;top:1247.30px;">202</div>
<div class="abs c d" style="left:732.86px;top:1247.30px;">190</div>
<div class="abs c d" style="left:767.58px;top:1247.30px;">177</div>
<div class="abs c d" style="left:802.30px;top:1247.30px;">164</div>
<div class="abs c d" style="left:837.02px;top:1247.30px;">149</div>
<div class="abs c d" style="left:871.74px;top:1247.30px;">134</div>
<div class="abs c d" style="left:906.46px;top:1247.30px;">117</div>
<div class="abs c d" style="left:941.18px;top:1247.30px;">100</div>
<div class="abs c d" style="left:975.27px;top:1247.30px;">80</div>
<div class="abs d" style="left:43px;top:1266.33px;transform:translate(0,-50%)">150SP30−24</div>
<div class="abs c d" style="left:195.40px;top:1266.33px;">24</div>
<div class="abs c d" style="left:275.95px;top:1266.33px;">22</div>
<div class="abs c d" style="left:339.70px;top:1266.33px;">30</div>
<div class="abs c d" style="left:559.26px;top:1266.33px;">258</div>
<div class="abs c d" style="left:593.98px;top:1266.33px;">254</div>
<div class="abs c d" style="left:628.70px;top:1266.33px;">248</div>
<div class="abs c d" style="left:663.42px;top:1266.33px;">240</div>
<div class="abs c d" style="left:698.14px;top:1266.33px;">230</div>
<div class="abs c d" style="left:732.86px;top:1266.33px;">219</div>
<div class="abs c d" style="left:767.58px;top:1266.33px;">207</div>
<div class="abs c d" style="left:802.30px;top:1266.33px;">191</div>
<div class="abs c d" style="left:837.02px;top:1266.33px;">175</div>
<div class="abs c d" style="left:871.74px;top:1266.33px;">156</div>
<div class="abs c d" style="left:906.46px;top:1266.33px;">137</div>
<div class="abs c d" style="left:941.18px;top:1266.33px;">117</div>
<div class="abs c d" style="left:975.27px;top:1266.33px;">93</div>
<div class="abs d" style="left:43px;top:1285.36px;transform:translate(0,-50%)">150SP30−26</div>
<div class="abs c d" style="left:195.40px;top:1285.36px;">26</div>
<div class="abs c d" style="left:275.95px;top:1285.36px;">22</div>
<div class="abs c d" style="left:339.70px;top:1285.36px;">30</div>
<div class="abs c d" style="left:559.26px;top:1285.36px;">287</div>
<div class="abs c d" style="left:593.98px;top:1285.36px;">282</div>
<div class="abs c d" style="left:628.70px;top:1285.36px;">275</div>
<div class="abs c d" style="left:663.42px;top:1285.36px;">266</div>
<div class="abs c d" style="left:698.14px;top:1285.36px;">255</div>
<div class="abs c d" style="left:732.86px;top:1285.36px;">242</div>
<div class="abs c d" style="left:767.58px;top:1285.36px;">227</div>
<div class="abs c d" style="left:802.30px;top:1285.36px;">212</div>
<div class="abs c d" style="left:837.02px;top:1285.36px;">194</div>
<div class="abs c d" style="left:871.74px;top:1285.36px;">173</div>
<div class="abs c d" style="left:906.46px;top:1285.36px;">152</div>
<div class="abs c d" style="left:941.18px;top:1285.36px;">127</div>
<div class="abs c d" style="left:975.27px;top:1285.36px;">100</div>
<div class="abs d" style="left:43px;top:1304.39px;transform:translate(0,-50%)">150SP30−29</div>
<div class="abs c d" style="left:195.40px;top:1304.39px;">29</div>
<div class="abs c d" style="left:275.95px;top:1304.39px;">26</div>
<div class="abs c d" style="left:339.70px;top:1304.39px;">35</div>
<div class="abs c d" style="left:559.26px;top:1304.39px;">319</div>
<div class="abs c d" style="left:593.98px;top:1304.39px;">314</div>
<div class="abs c d" style="left:628.70px;top:1304.39px;">307</div>
<div class="abs c d" style="left:663.42px;top:1304.39px;">298</div>
<div class="abs c d" style="left:698.14px;top:1304.39px;">287</div>
<div class="abs c d" style="left:732.86px;top:1304.39px;">273</div>
<div class="abs c d" style="left:767.58px;top:1304.39px;">257</div>
<div class="abs c d" style="left:802.30px;top:1304.39px;">240</div>
<div class="abs c d" style="left:837.02px;top:1304.39px;">220</div>
<div class="abs c d" style="left:871.74px;top:1304.39px;">196</div>
<div class="abs c d" style="left:906.46px;top:1304.39px;">170</div>
<div class="abs c d" style="left:941.18px;top:1304.39px;">143</div>
<div class="abs c d" style="left:975.27px;top:1304.39px;">113</div>
<div class="abs c d" style="left:411.30px;top:1169.50px;">3"</div>
<div class="abs c d" style="left:411.30px;top:1190.50px;">4"</div>
<div class="abs c d" style="left:497.20px;top:1180.30px;font-size:14.9px;">Head(m)</div>
</body></html>
